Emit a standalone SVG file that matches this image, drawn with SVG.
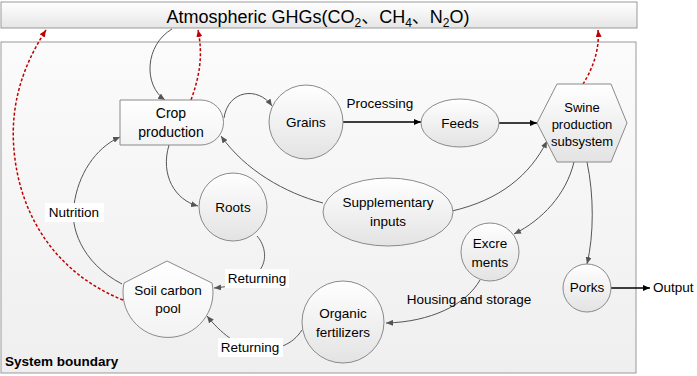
<svg xmlns="http://www.w3.org/2000/svg" width="697" height="376" viewBox="0 0 697 376">
<defs>
<linearGradient id="nodeG" x1="0" y1="0" x2="0" y2="1">
<stop offset="0" stop-color="#ffffff"/>
<stop offset="1" stop-color="#e3e3e3"/>
</linearGradient>
<linearGradient id="lightG" x1="0" y1="0" x2="0" y2="1">
<stop offset="0" stop-color="#ffffff"/>
<stop offset="1" stop-color="#f3f3f3"/>
</linearGradient>
<linearGradient id="barG" x1="0" y1="0" x2="0" y2="1">
<stop offset="0" stop-color="#ffffff"/>
<stop offset="1" stop-color="#e6e6e6"/>
</linearGradient>
<linearGradient id="bgG" x1="0" y1="0" x2="0" y2="1">
<stop offset="0" stop-color="#fbfbfb"/>
<stop offset="1" stop-color="#efefef"/>
</linearGradient>
<marker id="ag" markerWidth="7" markerHeight="6" refX="7" refY="3" orient="auto" markerUnits="userSpaceOnUse">
<path d="M0,0 L7,3 L0,6 z" fill="#555"/>
</marker>
<marker id="ab" markerWidth="7" markerHeight="6" refX="7" refY="3" orient="auto" markerUnits="userSpaceOnUse">
<path d="M0,0 L7,3 L0,6 z" fill="#000"/>
</marker>
<marker id="ar" markerWidth="7" markerHeight="6" refX="7" refY="3" orient="auto" markerUnits="userSpaceOnUse">
<path d="M0,0 L7,3 L0,6 z" fill="#c00000"/>
</marker>
</defs>
<style>
text{font-family:"Liberation Sans","Noto Sans CJK SC",sans-serif;fill:#000;}
.t{font-size:13.5px;text-anchor:middle;}
.node{fill:url(#nodeG);stroke:#8a8a8a;stroke-width:1;}
.light{fill:url(#lightG);}
.g{fill:none;stroke:#555;stroke-width:1;marker-end:url(#ag);}
.b{fill:none;stroke:#000;stroke-width:1.5;marker-end:url(#ab);}
.r{fill:none;stroke:#c00000;stroke-width:1.5;stroke-dasharray:3 2;marker-end:url(#ar);}
.lb{fill:#ffffff;stroke:none;}
</style>

<g id="boundary">
<rect x="1" y="42" width="635" height="331" fill="url(#bgG)" stroke="#999" stroke-width="1"/>
<text x="5" y="366" style="font-size:13.5px;font-weight:bold;">System boundary</text>
</g>

<g id="atmosphere">
<rect x="1" y="2" width="636" height="26" fill="url(#barG)" stroke="#999" stroke-width="1"/>
<text x="318" y="23" style="font-size:18px;text-anchor:middle;">Atmospheric GHGs(CO<tspan font-size="12" dy="4">2</tspan><tspan dy="-4">、CH</tspan><tspan font-size="12" dy="4">4</tspan><tspan dy="-4">、N</tspan><tspan font-size="12" dy="4">2</tspan><tspan dy="-4">O)</tspan></text>
</g>

<g id="connectors">
<path class="g" d="M172,29 C145,45 143,85 165,100"/>
<path class="g" d="M224,118 C228,90 258,86 272,106"/>
<path class="b" d="M343,122 L421,122"/>
<path class="b" d="M499,123 L537,123"/>
<path class="g" d="M323,203 C285,193 245,170 221,136"/>
<path class="g" d="M452,211 C500,200 530,175 547,141"/>
<path class="g" d="M574,162 C566,195 542,220 514,234"/>
<path class="g" d="M587,162 C594,195 594,235 587,264"/>
<path class="g" d="M480,280 C466,305 430,322 386,323"/>
<path class="g" d="M302,330 C292,345 278,350 258,349 C238,348 220,332 207,316"/>
<path class="g" d="M257,236 C268,248 276,283 214,288"/>
<path class="g" d="M122,284 C80,262 70,225 74,205 C78,175 95,148 120,137"/>
<path class="g" d="M169,145 C160,175 175,200 198,206"/>
<path class="b" d="M611,288 L650,288"/>
<path class="r" d="M191,100 C200,75 203,55 198,30"/>
<path class="r" d="M123,300 C60,275 20,220 14,150 C9,95 30,55 46,30"/>
<path class="r" d="M583,84 C592,70 600,50 598,30"/>
</g>

<g id="labels">
<text class="t" x="380" y="108">Processing</text>
<rect class="lb" x="45" y="203" width="59" height="19"/>
<text class="t" x="74" y="217">Nutrition</text>
<rect class="lb" x="225" y="269" width="64" height="19"/>
<text class="t" x="257" y="283">Returning</text>
<rect class="lb" x="218" y="338" width="65" height="19"/>
<text class="t" x="250" y="352">Returning</text>
<text class="t" x="469" y="304">Housing and storage</text>
<text x="653" y="292" style="font-size:13.5px;">Output</text>
</g>

<g id="crop">
<path class="node light" d="M120,100 L201,100 A22.5,22.5 0 0 1 201,145 L120,145 Z"/>
<text class="t" x="171" y="118" style="font-size:14px;">Crop</text>
<text class="t" x="171" y="137" style="font-size:14px;">production</text>
</g>

<g id="grains">
<circle class="node" cx="306" cy="122" r="37"/>
<text class="t" x="306" y="127">Grains</text>
</g>

<g id="feeds">
<ellipse class="node" cx="460" cy="123" rx="39" ry="24"/>
<text class="t" x="460" y="128">Feeds</text>
</g>

<g id="swine">
<polygon class="node" points="557,84 611,84 627,123 611,162 557,162 537,123"/>
<text class="t" x="582" y="112" style="font-size:13px;">Swine</text>
<text class="t" x="582" y="129" style="font-size:13px;">production</text>
<text class="t" x="582" y="146" style="font-size:13px;">subsystem</text>
</g>

<g id="roots">
<circle class="node" cx="233" cy="207" r="34"/>
<text class="t" x="233" y="212">Roots</text>
</g>

<g id="supplementary">
<ellipse class="node" cx="388" cy="212" rx="65" ry="34"/>
<text class="t" x="388" y="207">Supplementary</text>
<text class="t" x="388" y="226">inputs</text>
</g>

<g id="excrements">
<circle class="node" cx="490" cy="252" r="29"/>
<text class="t" x="490" y="248">Excre</text>
<text class="t" x="490" y="267">ments</text>
</g>

<g id="porks">
<circle class="node" cx="587" cy="288" r="24"/>
<text class="t" x="587" y="292">Porks</text>
</g>

<g id="organic">
<circle class="node" cx="343" cy="322" r="41"/>
<text class="t" x="343" y="318">Organic</text>
<text class="t" x="343" y="337">fertilizers</text>
</g>

<g id="soil">
<path class="node light" d="M124,283 L167,261 L212,283 A45,45 0 1 1 124,283 Z"/>
<text class="t" x="168" y="295">Soil carbon</text>
<text class="t" x="168" y="313">pool</text>
</g>
</svg>
